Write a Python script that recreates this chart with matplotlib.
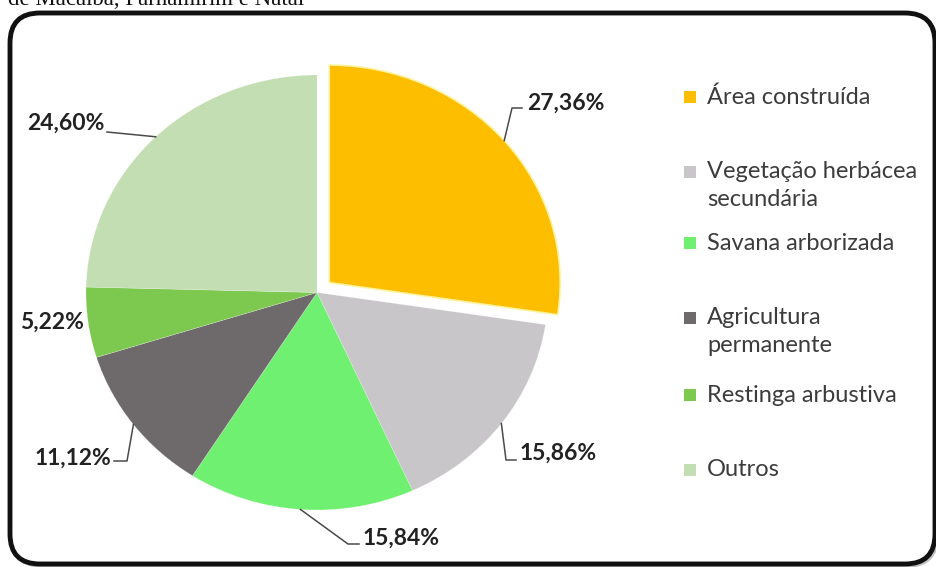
import matplotlib
matplotlib.use("Agg")
import matplotlib.pyplot as plt
from matplotlib.patches import FancyBboxPatch, Rectangle
import numpy as np

# Land-cover shares (%)
categories = ["Área construída", "Vegetação herbácea\nsecundária", "Savana arborizada",
              "Agricultura\npermanente", "Restinga arbustiva", "Outros"]
shares = [27.36, 15.86, 15.84, 11.12, 5.22, 24.60]
share_labels = ["27,36%", "15,86%", "15,84%", "11,12%", "5,22%", "24,60%"]
colors = ["#FDBE00", "#C9C6CA", "#70F070", "#6E6A6B", "#7DC84E", "#C3DEB2"]

W, H = 937, 567
fig = plt.figure(figsize=(W / 100, H / 100), dpi=100)
fig.patch.set_facecolor("white")


def Y(y):
    """Convert a top-down pixel row to a bottom-up coordinate."""
    return H - y


# Background layer: caption fragment and rounded frame
bg = fig.add_axes([0, 0, 1, 1], zorder=0)
bg.set_xlim(0, W)
bg.set_ylim(0, H)
bg.axis("off")
bg.text(8, Y(5), "de Macaíba, Parnamirim e Natal", family="Liberation Serif",
        fontsize=16.5, color="#111111", ha="left", va="baseline")
shadow = FancyBboxPatch((12, Y(566)), 925, 551, boxstyle="round,pad=0,rounding_size=30",
                        facecolor="none", edgecolor="#9A9A9A", linewidth=2.5, alpha=0.6)
bg.add_patch(shadow)
frame = FancyBboxPatch((10, Y(564)), 925, 551, boxstyle="round,pad=0,rounding_size=30",
                       facecolor="white", edgecolor="#111111", linewidth=3.5)
bg.add_patch(frame)

# Pie layer (slightly wider than tall)
pl, pr, pt, pb = 86, 548, 75, 510
ax_pie = fig.add_axes([pl / W, Y(pb) / H, (pr - pl) / W, (pb - pt) / H], zorder=1)
explode = [0.07, 0, 0, 0, 0, 0]
wedges, _ = ax_pie.pie(shares, colors=colors, startangle=90, counterclock=False,
                       radius=1, explode=explode,
                       wedgeprops=dict(linewidth=0.4, edgecolor=(1, 1, 1, 0.35)))
wedges[0].set_edgecolor("#FFF3A0")
wedges[0].set_linewidth(1.2)
ax_pie.set_aspect("auto")
ax_pie.set_xlim(-1, 1)
ax_pie.set_ylim(-1, 1)
ax_pie.axis("off")

# Overlay layer in pixel units: labels, leader lines, legend
ov = fig.add_axes([0, 0, 1, 1], zorder=2)
ov.set_xlim(0, W)
ov.set_ylim(0, H)
ov.patch.set_alpha(0)
ov.axis("off")

label_font = dict(family="Lato", fontsize=16.5, fontweight="bold", color="#222222")
# (text x, text centre y, alignment, elbow points between arc and text)
layout = [
    (527, 103, "left", [(512, 108), (522, 108)]),
    (520, 453, "left", [(506, 460), (516, 460)]),
    (363, 538, "left", [(348, 544), (359, 544)]),
    (111, 458, "right", [(127, 461), (114, 461)]),
    (84, 322, "right", []),
    (105, 123, "right", [(107, 132)]),
]
for w, lab, (tx, ty, ha, elbow) in zip(wedges, share_labels, layout):
    mid = np.deg2rad((w.theta1 + w.theta2) / 2)
    px, py = ax_pie.transData.transform((w.center[0] + w.r * np.cos(mid),
                                         w.center[1] + w.r * np.sin(mid)))
    if elbow:
        xs = [px] + [p[0] for p in elbow]
        ys = [py] + [Y(p[1]) for p in elbow]
        ov.plot(xs, ys, color="#4A4A4A", linewidth=1.1)
    ov.text(tx, Y(ty), lab, ha=ha, va="center", **label_font)

legend_font = dict(family="Lato", fontsize=17, color="#3C3C3C", ha="left", va="center")
legend_rows = [97, 172, 243, 318, 395, 470]
line_step = 27
for name, col, ry in zip(categories, colors, legend_rows):
    ov.add_patch(Rectangle((684, Y(ry) - 6), 12, 12, facecolor=col, edgecolor="none"))
    for k, line in enumerate(name.split("\n")):
        ov.text(707, Y(ry + line_step * k), line, **legend_font)

fig.savefig("out.png", dpi=100, facecolor="white")
